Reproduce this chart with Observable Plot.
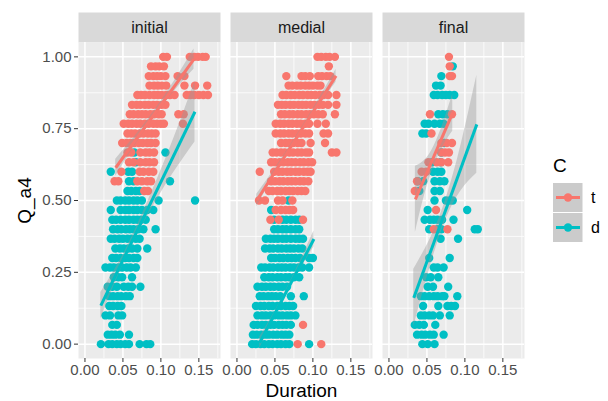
<!DOCTYPE html>
<html>
<head>
<meta charset="utf-8">
<script src="https://cdn.jsdelivr.net/npm/d3@7"></script>
<script src="https://cdn.jsdelivr.net/npm/@observablehq/plot@0.6"></script>
<style>
  body { margin: 0; background: white; }
  #wrap { position: relative; width: 608px; height: 401px; }
</style>
</head>
<body>
<div id="wrap"></div>
<script>
// ---- categories & ticks ----
const facets = ["initial", "medial", "final"];
const groups = ["t", "d"];
const colors = ["#F8766D", "#00BFC4"];
const xTicks = [0, 0.05, 0.10, 0.15];
const xMinor = [0.025, 0.075, 0.125, 0.175];
const yTicks = [0, 0.25, 0.5, 0.75, 1];
const yMinor = [0.125, 0.375, 0.625, 0.875];

// ---- points: [Q_a4, [Duration...]] ----
const initialT = [
  [1.000, [.103,.108,.138,.144,.149,.155,.159]],
  [0.967, [.087,.093,.098,.104]],
  [0.933, [.084,.090,.095,.100,.106,.122,.131]],
  [0.900, [.085,.091,.096,.101,.107,.131,.145,.161]],
  [0.867, [.069,.074,.079,.085,.091,.096,.101,.107,.112,.118,.134,.139,.144,.150,.156,.162]],
  [0.833, [.062,.068,.073,.079,.084,.090,.095,.101,.106]],
  [0.800, [.059,.064,.070,.075,.080,.086,.091,.097,.101,.123,.130]],
  [0.767, [.051,.057,.062,.068,.073,.079,.084,.090,.095,.100,.104,.129]],
  [0.733, [.056,.061,.066,.072,.077,.083,.088,.093]],
  [0.700, [.049,.055,.060,.065,.071,.076,.082,.087,.093]],
  [0.667, [.056,.061,.073,.080,.085,.091]],
  [0.633, [.058,.064,.073,.080,.085,.091]],
  [0.600, [.048,.072,.077,.084,.090]],
  [0.567, [.039,.044,.069,.075,.082,.087]],
  [0.533, [.078,.083]]
];
const initialD = [
  [0.667, [.065,.106]],
  [0.633, [.067]],
  [0.600, [.034,.057,.062]],
  [0.567, [.058,.064,.112]],
  [0.533, [.056,.061,.067,.072]],
  [0.500, [.042,.047,.053,.058,.064,.069,.075,.097,.145]],
  [0.467, [.034,.047,.053,.058,.064,.069,.075,.082,.090]],
  [0.433, [.036,.041,.047,.053,.058,.064,.069,.074,.080]],
  [0.400, [.037,.043,.048,.054,.059,.064,.070,.077,.093]],
  [0.367, [.034,.039,.045,.050,.056,.061,.067,.072]],
  [0.333, [.040,.046,.051,.057,.062,.069,.082]],
  [0.300, [.036,.041,.047,.053,.058,.064,.069]],
  [0.267, [.027,.033,.038,.044,.049,.055,.060,.067]],
  [0.233, [.038,.044,.049,.062]],
  [0.200, [.030,.036,.042,.051,.057,.062,.073]],
  [0.167, [.032,.037,.043,.048,.054,.059]],
  [0.133, [.032,.037,.043,.048]],
  [0.100, [.027,.033,.044,.049]],
  [0.067, [.036,.042]],
  [0.033, [.030,.035,.040,.046,.058]],
  [0.000, [.021,.031,.036,.042,.047,.053,.058,.072,.081,.086]]
];
const medialT = [
  [1.000, [.106,.111,.117,.122,.129]],
  [0.967, [.121]],
  [0.933, [.065,.085,.090,.096,.107,.112,.118,.123]],
  [0.900, [.068,.073,.079,.084,.090,.095,.100,.106,.110]],
  [0.867, [.060,.065,.071,.076,.082,.087,.093,.098,.103,.109,.114,.120,.131]],
  [0.833, [.054,.059,.064,.070,.075,.081,.086,.091,.097,.102,.108,.113,.120,.131]],
  [0.800, [.058,.063,.069,.074,.080,.085,.091,.096,.101,.107,.113,.129]],
  [0.767, [.051,.057,.062,.068,.073,.079,.084,.090,.095,.106,.117]],
  [0.733, [.051,.057,.062,.068,.073,.079,.084,.090,.095,.114,.120]],
  [0.700, [.058,.064,.069,.074,.080,.085,.097,.116]],
  [0.667, [.047,.052,.058,.063,.069,.074,.080,.085,.091,.095,.125,.131]],
  [0.633, [.045,.050,.056,.061,.067,.072,.077,.083,.088,.094,.099]],
  [0.600, [.030,.049,.055,.060,.066,.071,.077,.082,.088,.093,.097]],
  [0.567, [.045,.050,.056,.061,.067,.072,.077,.083,.088,.094]],
  [0.533, [.042,.047,.053,.058,.064,.069,.074,.080,.085,.090]],
  [0.500, [.029,.037,.054,.060,.073]],
  [0.467, [.051,.058,.064,.069,.074]],
  [0.433, [.044,.055,.087]],
  [0.067, [.087]],
  [0.000, [.080,.111]]
];
const medialD = [
  [0.500, [.068]],
  [0.467, [.045]],
  [0.433, [.049,.060,.065,.071,.077,.082]],
  [0.400, [.049,.054,.060,.065,.071,.077,.082]],
  [0.367, [.038,.044,.049,.054,.060,.065,.071,.077,.082,.087]],
  [0.333, [.037,.043,.048,.054,.059,.065,.070,.075,.081,.086]],
  [0.300, [.045,.050,.056,.061,.067,.072,.077,.083,.095,.100]],
  [0.267, [.032,.037,.043,.048,.054,.059,.064,.070,.075,.081,.086,.095]],
  [0.233, [.036,.042,.047,.053,.058,.064,.069,.075,.082]],
  [0.200, [.027,.033,.038,.044,.049,.055,.060,.066]],
  [0.167, [.030,.035,.041,.046,.051,.057,.071,.088]],
  [0.133, [.025,.031,.036,.042,.047,.053,.058,.064,.069,.074]],
  [0.100, [.027,.033,.038,.044,.049,.055,.060,.066,.071,.077]],
  [0.067, [.022,.027,.033,.038,.044,.049,.055,.060,.065,.071]],
  [0.033, [.021,.026,.032,.037,.042,.048,.053,.059,.064,.069]],
  [0.000, [.020,.025,.031,.036,.042,.047,.053,.058,.064,.069,.095]]
];
const finalT = [
  [1.000, [.079]],
  [0.967, [.080]],
  [0.933, [.080,.083]],
  [0.800, [.054,.083]],
  [0.733, [.056]],
  [0.700, [.069,.076,.083]],
  [0.667, [.069,.074,.079]],
  [0.633, [.052,.063,.069,.078]],
  [0.600, [.043,.049]],
  [0.567, [.037]],
  [0.533, [.034]],
  [0.467, [.062]],
  [0.400, [.059,.077]]
];
const finalD = [
  [0.967, [.084]],
  [0.933, [.069]],
  [0.900, [.062,.068]],
  [0.867, [.059,.064,.070,.075,.080,.086]],
  [0.800, [.065,.071,.077]],
  [0.767, [.047,.052,.060,.067,.072]],
  [0.733, [.044,.049]],
  [0.700, [.073]],
  [0.667, [.069]],
  [0.633, [.057,.068]],
  [0.600, [.058,.064,.069]],
  [0.567, [.038,.045,.060,.067,.073]],
  [0.533, [.040,.060,.067]],
  [0.500, [.060,.075,.080,.084]],
  [0.467, [.051,.103]],
  [0.433, [.047,.054,.059,.064,.070,.085]],
  [0.400, [.053,.064,.069,.113,.117]],
  [0.367, [.068,.091]],
  [0.300, [.053,.080]],
  [0.267, [.059,.064,.072]],
  [0.233, [.049,.055,.065]],
  [0.200, [.051,.058,.078]],
  [0.167, [.042,.047,.053,.059,.064,.070,.073,.090]],
  [0.133, [.045,.065,.077,.082,.087]],
  [0.100, [.042,.047,.053,.058,.067,.080]],
  [0.067, [.034,.040,.046,.061]],
  [0.033, [.037,.043,.048,.054,.059,.072]],
  [0.000, [.044,.051,.060]]
];

// ---- fitted lines and confidence bands ----
const fitFacets = ["initial", "initial", "medial", "medial", "final", "final"];
const fitGroups = ["t", "d", "t", "d", "t", "d"];
const fitStart = [[0.0405, 0.614], [0.0209, 0.134], [0.0261, 0.500], [0.030, 0.005], [0.0348, 0.504], [0.0327, 0.161]];
const fitEnd   = [[0.1436, 0.992], [0.1449, 0.809], [0.1305, 0.934], [0.1014, 0.366], [0.0840, 0.806], [0.1157, 0.765]];
const bandX = [
  [0.0405, 0.0663, 0.0920, 0.1178, 0.1436],
  [0.0209, 0.0519, 0.0829, 0.1139, 0.1449],
  [0.0261, 0.0522, 0.0783, 0.1044, 0.1305],
  [0.0300, 0.0479, 0.0657, 0.0836, 0.1014],
  [0.0348, 0.0471, 0.0594, 0.0717, 0.0840],
  [0.0327, 0.0535, 0.0742, 0.0950, 0.1157]
];
const bandLo = [
  [0.584, 0.693, 0.791, 0.880, 0.957],
  [0.088, 0.287, 0.447, 0.585, 0.704],
  [0.478, 0.599, 0.709, 0.814, 0.912],
  [-0.015, 0.085, 0.178, 0.261, 0.338],
  [0.389, 0.520, 0.620, 0.691, 0.741],
  [0.061, 0.262, 0.428, 0.534, 0.595]
];
const bandHi = [
  [0.644, 0.725, 0.815, 0.916, 1.027],
  [0.180, 0.319, 0.497, 0.695, 0.914],
  [0.522, 0.619, 0.725, 0.838, 0.956],
  [0.025, 0.105, 0.194, 0.291, 0.394],
  [0.619, 0.640, 0.690, 0.771, 0.871],
  [0.261, 0.362, 0.498, 0.694, 0.935]
];

// ---- build tables ----
const pointSets = [
  ["initial", "d", initialD], ["medial", "d", medialD], ["final", "d", finalD],
  ["initial", "t", initialT], ["medial", "t", medialT], ["final", "t", finalT]
];
const points = [];
for (const [facet, C, rows] of pointSets)
  for (const [q, durs] of rows)
    for (const dur of durs) points.push({facet, C, dur, q});

const bands = [];
const lines = [];
fitFacets.forEach((facet, i) => {
  bandX[i].forEach((x, j) => bands.push({facet, key: i, x, lo: bandLo[i][j], hi: bandHi[i][j]}));
  lines.push({facet, C: fitGroups[i], x1: fitStart[i][0], y1: fitStart[i][1], x2: fitEnd[i][0], y2: fitEnd[i][1]});
});

const panelH = 401 - 42 - 43;

const chart = Plot.plot({
  width: 608,
  height: 401,
  marginLeft: 77,
  marginRight: 83,
  marginTop: 42,
  marginBottom: 43,
  style: {fontFamily: "'Liberation Sans', Arial, sans-serif", fontSize: "15px", background: "white", overflow: "visible"},
  fx: {domain: facets, paddingInner: 0.0642, paddingOuter: 0, axis: null, label: null},
  x: {domain: [-0.0085, 0.1785]},
  y: {domain: [-0.05, 1.05]},
  color: {domain: groups, range: colors},
  marks: [
    Plot.frame({fill: "#D9D9D9", stroke: null, insetTop: -30, insetBottom: panelH}),
    Plot.frame({fill: "#EBEBEB", stroke: null}),
    Plot.ruleX(xMinor, {stroke: "white", strokeWidth: 0.75}),
    Plot.ruleY(yMinor, {stroke: "white", strokeWidth: 0.75}),
    Plot.ruleX(xTicks, {stroke: "white", strokeWidth: 1.5}),
    Plot.ruleY(yTicks, {stroke: "white", strokeWidth: 1.5}),
    Plot.axisX(xTicks, {tickFormat: ".2f", tickSize: 4, tickPadding: 2, stroke: "#333333", fill: "#4D4D4D", label: null}),
    Plot.axisY(yTicks, {tickFormat: ".2f", tickSize: 4, tickPadding: 3, stroke: "#333333", fill: "#4D4D4D", label: null}),
    Plot.dot(points, {fx: "facet", x: "dur", y: "q", fill: "C", r: 4.2}),
    Plot.areaY(bands, {fx: "facet", x: "x", y1: "lo", y2: "hi", z: "key", fill: "#999999", fillOpacity: 0.4, curve: "natural"}),
    Plot.link(lines, {fx: "facet", x1: "x1", y1: "y1", x2: "x2", y2: "y2", stroke: "C", strokeWidth: 3}),
    Plot.text(facets, {fx: d => d, text: d => d, frameAnchor: "top", lineAnchor: "middle", dy: -15, fontSize: 16, fill: "#1A1A1A"}),
    Plot.text(["Q_a4"], {fx: () => "initial", text: d => d, frameAnchor: "left", textAnchor: "middle", lineAnchor: "middle", rotate: -90, dx: -54, fontSize: 19, fill: "black"}),
    Plot.text(["Duration"], {fx: () => "medial", text: d => d, frameAnchor: "bottom", lineAnchor: "middle", dy: 32, fontSize: 19, fill: "black"})
  ]
});

const wrap = document.getElementById("wrap");
wrap.appendChild(chart);

// ---- legend (ggplot style) ----
const leg = d3.select(wrap).append("svg")
  .attr("width", 608).attr("height", 401)
  .style("position", "absolute").style("left", "0px").style("top", "0px")
  .style("pointer-events", "none")
  .style("font-family", "'Liberation Sans', Arial, sans-serif");
leg.append("text").attr("x", 553).attr("y", 172).attr("font-size", 19).attr("fill", "black").text("C");
groups.forEach((g, i) => {
  const y0 = 183 + i * 30;
  leg.append("rect").attr("x", 553).attr("y", y0).attr("width", 29.5).attr("height", 29).attr("fill", "#CBCBCB");
  leg.append("line").attr("x1", 556).attr("x2", 580).attr("y1", y0 + 14.5).attr("y2", y0 + 14.5)
    .attr("stroke", colors[i]).attr("stroke-width", 3);
  leg.append("circle").attr("cx", 568).attr("cy", y0 + 14.5).attr("r", 4.2).attr("fill", colors[i]);
  leg.append("text").attr("x", 591).attr("y", y0 + 14.5).attr("dy", "0.35em").attr("font-size", 16)
    .attr("fill", "black").text(g);
});
</script>
</body>
</html>
